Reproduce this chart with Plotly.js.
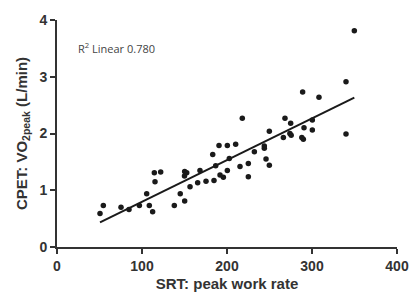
<!DOCTYPE html>
<html><head><meta charset="utf-8">
<script src="https://cdn.plot.ly/plotly-3.0.1.min.js"></script>
<style>html,body{margin:0;padding:0;background:#fff}#c{width:410px;height:299px}</style>
</head><body><div id="c"></div>
<script>
const srtPeakWorkRate = [50.6,54.5,75.3,84.7,96.9,105.5,108.6,112.5,114.5,115.3,122,138,145,150.2,150.2,152.6,150,156.5,165.5,168.2,175.3,184.7,183.2,186.7,190.6,200.4,191.8,195.7,200.4,202.7,210.2,218,215.3,225.1,225.1,232.2,243.9,243.9,249.8,245.9,249.8,266.3,268.2,274.9,274,275.5,289.8,290.6,300.4,300.4,340,349.8,340,289,308.2,288];
const cpetVO2peak = [0.59,0.73,0.70,0.66,0.73,0.94,0.73,0.62,1.31,1.15,1.32,0.73,0.94,0.81,1.33,1.31,1.25,1.06,1.13,1.35,1.16,1.17,1.63,1.43,1.79,1.79,1.27,1.23,1.35,1.56,1.81,2.27,1.42,1.47,1.24,1.68,1.78,1.74,2.04,1.55,1.44,1.93,2.27,2.18,2.00,1.97,1.90,2.10,2.24,2.06,1.99,3.81,2.91,2.73,2.64,1.93];
const fitSlope = 0.00734;
const fitIntercept = 0.064;
const r2Text = "R<sup>2</sup> Linear 0.780";
const xTicks = [0,100,200,300,400];
const yTicks = [0,1,2,3,4];

const xMin = Math.min(...srtPeakWorkRate), xMax = Math.max(...srtPeakWorkRate);
const fitX = [xMin, xMax];
const fitY = fitX.map(x => fitIntercept + fitSlope * x);

const fam = 'Liberation Sans, Arial, sans-serif';
const axisCommon = {
  showgrid:false, zeroline:false, showline:true, linecolor:'#333', linewidth:2,
  ticks:'outside', ticklen:5, tickwidth:2, tickcolor:'#333',
  tickfont:{family:fam, size:14, color:'#333', weight:'bold'}
};

Plotly.newPlot('c', [
  {x:srtPeakWorkRate, y:cpetVO2peak, mode:'markers', type:'scatter',
   marker:{size:5.5, color:'#1a1a1a'}, hoverinfo:'none', cliponaxis:false},
  {x:fitX, y:fitY, mode:'lines', type:'scatter', line:{color:'#1a1a1a', width:2}, hoverinfo:'none'}
], {
  width:410, height:299, showlegend:false,
  paper_bgcolor:'#fff', plot_bgcolor:'#fff',
  margin:{l:57, r:13, t:20, b:52},
  xaxis:Object.assign({}, axisCommon, {range:[0,400], tickvals:xTicks,
    title:{text:'SRT: peak work rate', standoff:6, font:{family:fam, size:15, color:'#333', weight:'bold'}}}),
  yaxis:Object.assign({}, axisCommon, {range:[0,4], tickvals:yTicks,
    title:{text:'CPET: VO<sub>2peak</sub> (L/min)', standoff:8, font:{family:fam, size:15, color:'#333', weight:'bold'}}}),
  annotations:[{xref:'x', yref:'y', x:22, y:3.5, xanchor:'left', yanchor:'middle', showarrow:false,
    text:r2Text, font:{family:'Open Sans, sans-serif', size:11, color:'#444'}}]
}, {staticPlot:true, displayModeBar:false});
</script>
</body></html>
